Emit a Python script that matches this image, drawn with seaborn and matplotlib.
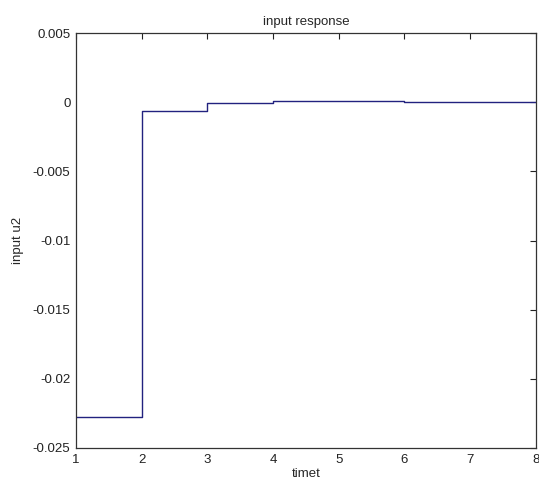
import numpy as np
import pandas as pd
import matplotlib
matplotlib.use('Agg')
import matplotlib.pyplot as plt
import seaborn as sns

# valores (stairs, degrau a partir de cada instante)
tempo = [1, 2, 3, 4, 5, 6, 7, 8]
entrada_u2 = [-0.02275, -0.0006, -0.00005, 0.00008, 0.00008, 0.0, 0.0, 0.0]

sns.set_style('white')
plt.rcParams['font.family'] = ['Liberation Sans', 'DejaVu Sans']
plt.rcParams['font.size'] = 9.5

df = pd.DataFrame({'timet': tempo, 'input u2': entrada_u2})

fig = plt.figure(figsize=(5.39, 4.88), dpi=100)
ax = fig.add_axes([0.141, 0.082, 0.853, 0.850])
sns.lineplot(data=df, x='timet', y='input u2', drawstyle='steps-post',
             color='#22227f', linewidth=1.0, ax=ax)

ax.set_xlim(1, 8)
ax.set_ylim(-0.025, 0.005)
ax.set_xticks(np.arange(1, 9))
ax.set_yticks([-0.025, -0.02, -0.015, -0.01, -0.005, 0, 0.005])
ax.set_yticklabels(['-0.025', '-0.02', '-0.015', '-0.01', '-0.005', '0', '0.005'])
ax.tick_params(direction='in', top=True, right=True, length=4, width=0.8,
               labelsize=9.5, colors='#222222', pad=4)
for s in ax.spines.values():
    s.set_color('#333333')
    s.set_linewidth(0.9)

ax.set_title('input response', fontsize=9.5, pad=6)
ax.set_xlabel('timet', fontsize=9.5, labelpad=2)
ax.set_ylabel('input u2', fontsize=9.5, labelpad=6)

plt.savefig('out.png', dpi=100)
